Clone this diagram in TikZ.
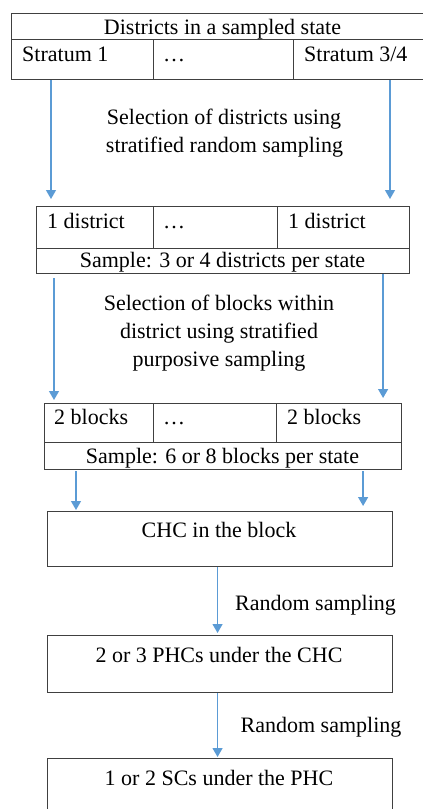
\documentclass[tikz,border=0pt]{standalone}
\usepackage{fontspec}
\setmainfont{Liberation Serif}
\usetikzlibrary{arrows.meta}
\definecolor{arrblue}{RGB}{91,155,213}
\definecolor{boxline}{RGB}{64,64,64}
\tikzset{
  cell/.style={draw=boxline, line width=1.1pt, inner sep=0pt, anchor=north west},
  txt/.style={inner sep=0pt, font=\fontsize{22}{28}\selectfont},
  arr/.style={draw=arrblue, line width=1.3pt, -{Triangle[width=10pt,length=9pt]}}
}
\begin{document}
\begin{tikzpicture}[x=1pt,y=1pt]
\useasboundingbox (0,0) rectangle (423,-809);
% top table
\node[cell, minimum width=421pt, minimum height=26pt] (t0) at (11,-13) {};
\node[cell, minimum width=142pt, minimum height=40pt] (s1) at (11,-39) {};
\node[cell, minimum width=140pt, minimum height=40pt] (s2) at (153,-39) {};
\node[cell, minimum width=139pt, minimum height=40pt] (s3) at (293,-39) {};
\node[txt, anchor=base] (t0t) at (222.5,-34) {Districts in a sampled state};
\node[txt, anchor=base west] (s1t) at (22,-61) {Stratum 1};
\node[txt, anchor=base west] (s2t) at (163,-61) {…};
\node[txt, anchor=base west] (s3t) at (304,-61) {Stratum 3/4};
\node[txt, anchor=base] (sel1a) at (224,-124) {Selection of districts using};
\node[txt, anchor=base] (sel1b) at (224.5,-152) {stratified random sampling};
% second table
\node[cell, minimum width=117pt, minimum height=42pt] (d1) at (36,-206) {};
\node[cell, minimum width=124pt, minimum height=42pt] (d2) at (153,-206) {};
\node[cell, minimum width=132pt, minimum height=42pt] (d3) at (277,-206) {};
\node[cell, minimum width=373pt, minimum height=25pt] (dS) at (36,-248) {};
\node[txt, anchor=base west] (d1t) at (47,-228) {1 district};
\node[txt, anchor=base west] (d2t) at (163,-228) {…};
\node[txt, anchor=base west] (d3t) at (288,-228) {1 district};
\node[txt, anchor=base] (dSt) at (222.5,-267) {Sample: 3 or 4 districts per state};
\node[txt, anchor=base] (sel2a) at (219,-310) {Selection of blocks within};
\node[txt, anchor=base] (sel2b) at (219,-338) {district using stratified};
\node[txt, anchor=base] (sel2c) at (219,-366) {purposive sampling};
% third table
\node[cell, minimum width=109pt, minimum height=39pt] (b1) at (44,-403) {};
\node[cell, minimum width=123pt, minimum height=39pt] (b2) at (153,-403) {};
\node[cell, minimum width=125pt, minimum height=39pt] (b3) at (276,-403) {};
\node[cell, minimum width=357pt, minimum height=27pt] (bS) at (44,-442) {};
\node[txt, anchor=base west] (b1t) at (54,-424) {2 blocks};
\node[txt, anchor=base west] (b2t) at (163,-424) {…};
\node[txt, anchor=base west] (b3t) at (287,-424) {2 blocks};
\node[txt, anchor=base] (bSt) at (222.5,-463) {Sample: 6 or 8 blocks per state};
% single boxes
\node[cell, minimum width=345pt, minimum height=55pt] (chc) at (47,-511) {};
\node[txt, anchor=base] (chct) at (219,-537) {CHC in the block};
\node[cell, minimum width=345pt, minimum height=57pt] (phc) at (47,-635) {};
\node[txt, anchor=base] (phct) at (219,-662) {2 or 3 PHCs under the CHC};
\node[cell, minimum width=345pt, minimum height=57pt] (sc) at (47,-758) {};
\node[txt, anchor=base] (sct) at (219,-785) {1 or 2 SCs under the PHC};
\node[txt, anchor=base] (rs1) at (315.5,-610) {Random sampling};
\node[txt, anchor=base] (rs2) at (321,-732) {Random sampling};
% arrows
\draw[arr, shorten >=7pt] ([xshift=40pt]s1.south west) coordinate (a1) -- (a1 |- d1.north);
\draw[arr, shorten >=7pt] ([xshift=97pt]s3.south west) coordinate (a2) -- (a2 |- d3.north);
\draw[arr, shorten <=4pt, shorten >=3pt] ([xshift=18pt]dS.south west) coordinate (a3) -- (a3 |- b1.north);
\draw[arr, shorten >=5pt] ([xshift=-27pt]dS.south east) coordinate (a4) -- (a4 |- b3.north);
\draw[arr, shorten <=1pt, shorten >=1pt] ([xshift=32pt]bS.south west) coordinate (a5) -- (a5 |- chc.north);
\draw[arr, shorten <=1pt, shorten >=5pt] ([xshift=-39pt]bS.south east) coordinate (a6) -- (a6 |- chc.north);
\draw[arr, shorten >=2pt] ([xshift=-2.5pt]chc.south) coordinate (a7) -- (a7 |- phc.north);
\draw[arr, shorten >=1pt] ([xshift=-2.5pt]phc.south) coordinate (a8) -- (a8 |- sc.north);
\end{tikzpicture}
\end{document}
